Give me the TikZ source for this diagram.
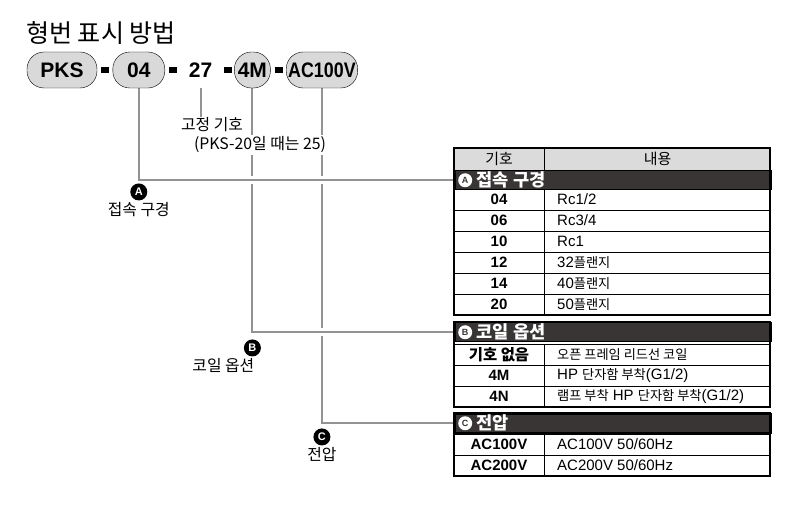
\documentclass[tikz,border=0pt]{standalone}
\usepackage{fontspec}
\setmainfont{Liberation Sans}
\newfontfamily\kor[Scale=0.88]{Noto Sans CJK KR}
\newfontfamily\pillfont[FakeStretch=0.85]{Liberation Sans}
\usetikzlibrary{positioning,calc}
\definecolor{bardark}{HTML}{3A3535}
\definecolor{conngray}{HTML}{939393}
\pgfdeclarelayer{bg}
\pgfsetlayers{bg,main}

\begin{document}
\begin{tikzpicture}[x=1pt,y=-1pt,
	pill/.style={draw=black,fill=gray!30,rounded corners=17pt,minimum height=36pt,inner xsep=2pt,font=\bfseries\fontsize{21}{21}\selectfont},
	dashbox/.style={fill=black,minimum width=8pt,minimum height=6pt,inner sep=0pt},
	conn/.style={draw=conngray,line width=2pt},
	halo/.style={preaction={draw=white,line width=8pt}},
	keydot/.style={circle,fill=black,text=white,inner sep=0pt,minimum size=17pt,font=\bfseries\fontsize{11}{11}\selectfont},
	keylbl/.style={font=\kor\fontsize{18}{18}\selectfont,inner sep=1pt},
	hdrcell/.style={draw=black,fill=gray!28,minimum height=22pt,inner sep=0pt,anchor=north west,font=\kor\fontsize{17}{17}\selectfont},
	barcell/.style={draw=black,line width=1.5pt,fill=bardark,minimum width=316pt,minimum height=19pt,anchor=north west,inner sep=0pt},
	barletter/.style={circle,fill=white,text=bardark,inner sep=0pt,minimum size=14pt,font=\bfseries\fontsize{9}{9}\selectfont},
	bartext/.style={text=white,inner sep=0pt,font=\kor\bfseries\fontsize{20}{20}\selectfont},
	codecell/.style={font=\bfseries\fontsize{15}{15}\selectfont,inner sep=0pt},
	desccell/.style={anchor=west,font=\fontsize{15}{15}\selectfont,inner sep=0pt},
	rowline/.style={draw=black,line width=0.8pt},
	tableframe/.style={draw=black,line width=2pt}
]
\useasboundingbox (0,0) rectangle (804,513);

\node[anchor=west,inner sep=0pt,font=\kor\fontsize{28.5}{28.5}\selectfont] (title) at (26,33) {형번 표시 방법};

% model code
\node[pill,minimum width=70pt] (pks) at (62,70) {PKS};
\node[dashbox,right=4pt of pks] (d1) {};
\node[pill,minimum width=52pt,right=3pt of d1] (p04) {04};
\node[dashbox,right=4pt of p04] (d2) {};
\node[right=5pt of d2,minimum width=36pt,minimum height=36pt,inner sep=0pt,font=\bfseries\fontsize{21}{21}\selectfont] (p27) {27};
\node[dashbox,right=5pt of p27] (d3) {};
\node[pill,minimum width=36pt,right=2pt of d3] (p4m) {4M};
\node[dashbox,right=4pt of p4m] (d4) {};
\node[pill,minimum width=71pt,right=3pt of d4,font=\pillfont\bfseries\fontsize{21}{21}\selectfont] (pac) {AC100V};

\node[keylbl] (fixlbl) at (212,125) {고정 기호};
\node[keylbl,fill=white,inner sep=2pt] (fixnote) at (260,145) {(PKS-20일 때는 25)};

% table A
\node[hdrcell,minimum width=90pt] (hdrkey) at (454,148) {기호};
\node[hdrcell,minimum width=226pt] (hdrdesc) at (hdrkey.north east) {내용};
\node[barcell] (barA) at (454,170) {};
\node[barletter,right=4pt of barA.west] (ltrA) {A};
\node[bartext,right=4pt of ltrA] (txtA) {접속 구경};
\foreach \code/\desc [count=\i from 0] in {04/{Rc1/2},06/{Rc3/4},10/Rc1,12/{32{\kor 플랜지}},14/{40{\kor 플랜지}},20/{50{\kor 플랜지}}}{
	\draw[rowline] (454,189+21*\i) rectangle (770,210+21*\i);
	\node[codecell] (codeA\i) at (499,199.5+21*\i) {\code};
	\node[desccell] (descA\i) at (557,199.5+21*\i) {\desc};
}
\draw[rowline] (544,189) -- (544,315);
\draw[tableframe] (454,148) rectangle (770,315);

% table B
\node[barcell] (barB) at (454,322) {};
\node[barletter,right=4pt of barB.west] (ltrB) {B};
\node[bartext,right=4pt of ltrB] (txtB) {코일 옵션};
\foreach \code/\desc [count=\i from 0] in {{\kor\fontsize{17.5}{17.5}\selectfont 기호 없음}/{\kor 오픈 프레임 리드선 코일},4M/{HP {\kor 단자함 부착}(G1/2)},4N/{{\kor 램프 부착} HP {\kor 단자함 부착}(G1/2)}}{
	\draw[rowline] (454,344+21*\i) rectangle (770,365+21*\i);
	\node[codecell] (codeB\i) at (499,354.5+21*\i) {\code};
	\node[desccell] (descB\i) at (557,354.5+21*\i) {\desc};
}
\draw[rowline] (544,344) -- (544,407);
\draw[tableframe] (454,322) rectangle (770,407);

% table C
\node[barcell] (barC) at (454,413) {};
\node[barletter,right=4pt of barC.west] (ltrC) {C};
\node[bartext,right=4pt of ltrC] (txtC) {전압};
\foreach \code/\desc [count=\i from 0] in {AC100V/{AC100V 50/60Hz},AC200V/{AC200V 50/60Hz}}{
	\draw[rowline] (454,434+21*\i) rectangle (770,455+21*\i);
	\node[codecell] (codeC\i) at (499,444.5+21*\i) {\code};
	\node[desccell] (descC\i) at (557,444.5+21*\i) {\desc};
}
\draw[rowline] (544,434) -- (544,476);
\draw[tableframe] (454,413) rectangle (770,476);

% keys
\coordinate (cornA) at (p04.south |- barA.west);
\coordinate (cornB) at (p4m.south |- barB.west);
\coordinate (cornC) at (pac.south |- barC.west);
\node[keydot,below=3pt of cornA] (dotA) {A};
\node[keylbl,below=1pt of dotA] (lblA) {접속 구경};
\node[keydot,below=7pt of cornB] (dotB) {B};
\node[keylbl,below=1pt of dotB,xshift=-29pt] (lblB) {코일 옵션};
\node[keydot,below=5pt of cornC] (dotC) {C};
\node[keylbl,below=1pt of dotC] (lblC) {전압};

\begin{pgfonlayer}{bg}
	\draw[conn] (pac.south) |- (barC.west);
	\draw[conn,halo] (p4m.south) |- (barB.west);
	\draw[conn,halo] (p04.south) |- (barA.west);
	\draw[conn] (p27.south) -- (p27.south |- fixlbl.north);
\end{pgfonlayer}
\end{tikzpicture}
\end{document}
